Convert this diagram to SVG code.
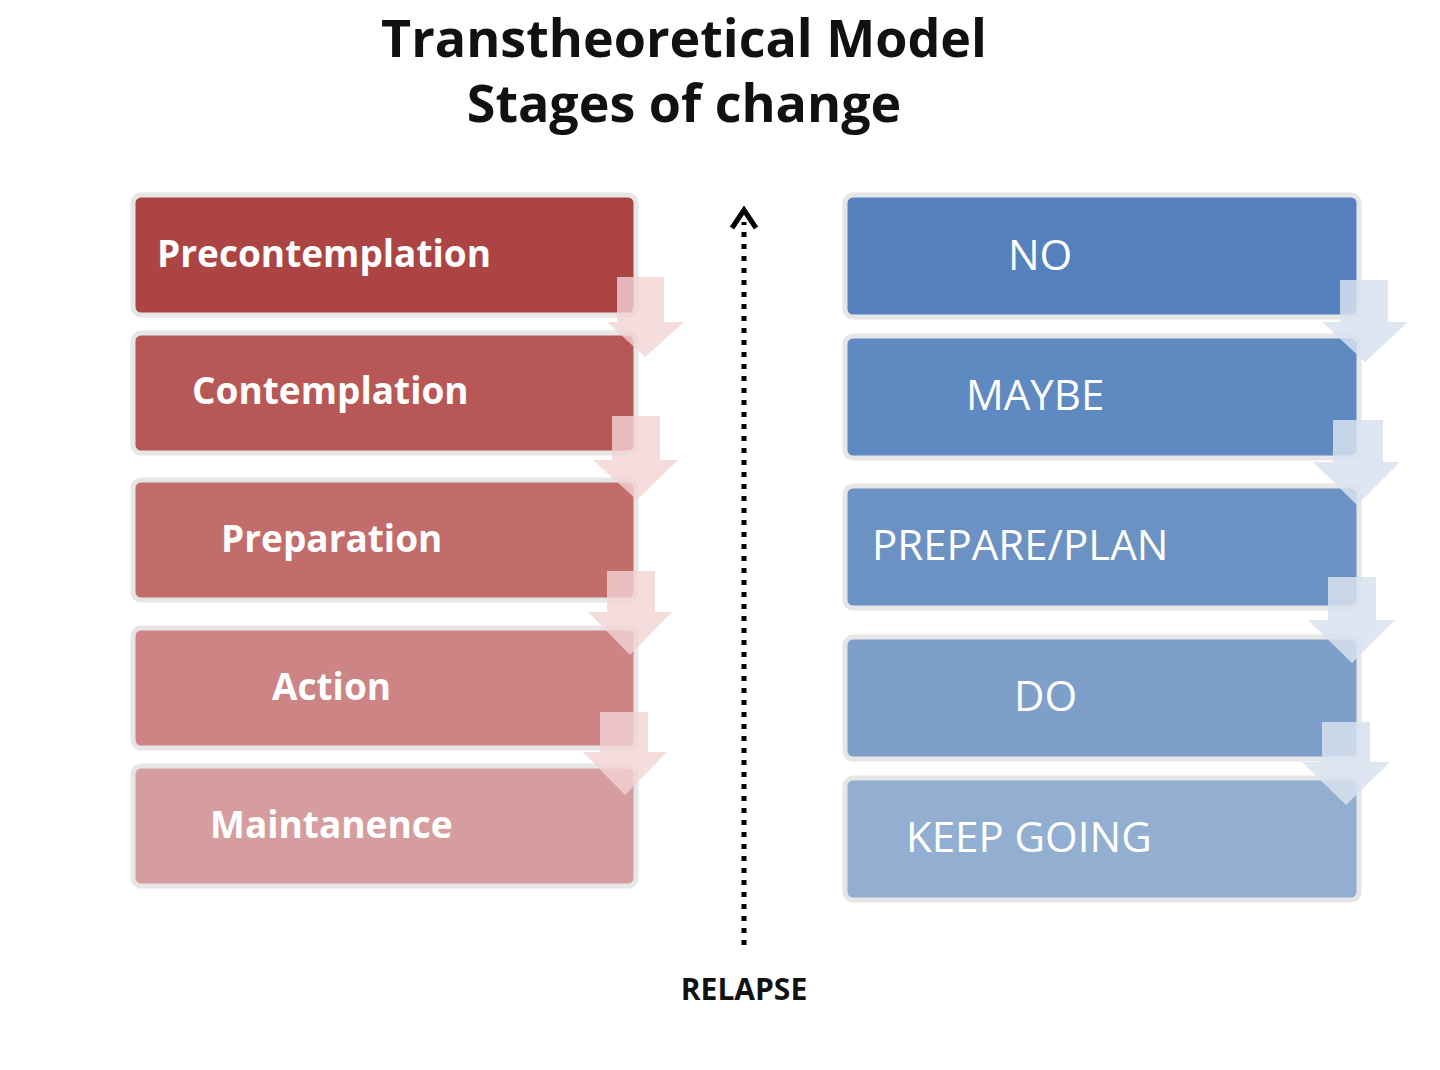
<svg xmlns="http://www.w3.org/2000/svg" width="1440" height="1070" viewBox="0 0 1440 1070">
<style>
.t{font-family:"Open Sans","Liberation Sans",sans-serif;font-weight:bold;fill:#111;font-size:52px;text-anchor:middle}
.lb{font-family:"Open Sans","Liberation Sans",sans-serif;font-weight:bold;fill:#fff;font-size:37px}
.rb{font-family:"Open Sans","Liberation Sans",sans-serif;fill:#fff;font-size:42px}
.bx{stroke:#e6e6e6;stroke-width:5}
.da{fill:#f3d3d5;fill-opacity:0.8}
.db{fill:#d8e2ef;fill-opacity:0.85}
</style>
<rect width="1440" height="1070" fill="#fff"/>
<text class="t" x="684" y="57">Transtheoretical Model</text>
<text class="t" x="684" y="122">Stages of change</text>
<g id="pre"><rect class="bx" x="133" y="195" width="503" height="120" rx="8" fill="#AB4443"/><text class="lb" x="157" y="267">Precontemplation</text></g>
<g id="con"><rect class="bx" x="133" y="333" width="503" height="120" rx="8" fill="#B75756"/><text class="lb" x="192" y="404">Contemplation</text></g>
<g id="prep"><rect class="bx" x="133" y="480" width="503" height="120" rx="8" fill="#C26C6C"/><text class="lb" x="221" y="552">Preparation</text></g>
<g id="act"><rect class="bx" x="133" y="628" width="503" height="120" rx="8" fill="#CC8485"/><text class="lb" x="272" y="700">Action</text></g>
<g id="mai"><rect class="bx" x="133" y="766" width="503" height="120" rx="8" fill="#D69D9F"/><text class="lb" x="210" y="838">Maintanence</text></g>
<g id="no"><rect class="bx" x="845" y="195" width="514" height="122" rx="8" fill="#5582BE"/><text class="rb" x="1008" y="270">NO</text></g>
<g id="maybe"><rect class="bx" x="845" y="336" width="514" height="122" rx="8" fill="#5F89C1"/><text class="rb" x="966" y="410">MAYBE</text></g>
<g id="plan"><rect class="bx" x="845" y="486" width="514" height="122" rx="8" fill="#6C92C4"/><text class="rb" x="872" y="560">PREPARE/PLAN</text></g>
<g id="do"><rect class="bx" x="845" y="637" width="514" height="122" rx="8" fill="#7E9FC9"/><text class="rb" x="1014" y="711">DO</text></g>
<g id="keep"><rect class="bx" x="845" y="778" width="514" height="122" rx="8" fill="#92AFD1"/><text class="rb" x="906" y="852">KEEP GOING</text></g>
<g id="connectors">
<polygon class="da" points="617,277 664,277 664,322 684,322 645,357 607,322 617,322"/>
<polygon class="da" points="612,416 660,416 660,460 678,460 637,500 593,460 612,460"/>
<polygon class="da" points="607,571 655,571 655,612 672,612 630,655 588,612 607,612"/>
<polygon class="da" points="600,712 648,712 648,752 667,752 625,795 583,752 600,752"/>
<polygon class="db" points="1340,280 1388,280 1388,322 1408,322 1365,362 1322,322 1340,322"/>
<polygon class="db" points="1333,420 1383,420 1383,462 1400,462 1357,505 1313,462 1333,462"/>
<polygon class="db" points="1328,577 1376,577 1376,620 1395,620 1352,663 1308,620 1328,620"/>
<polygon class="db" points="1322,722 1370,722 1370,762 1390,762 1346,805 1302,762 1322,762"/>
<line x1="744" y1="945" x2="744" y2="222" stroke="#000" stroke-width="5" stroke-dasharray="5,7"/>
<polyline points="732,228 744,210 756,228" fill="none" stroke="#000" stroke-width="5"/>
</g>
<text x="744" y="1000" font-family="Open Sans,Liberation Sans,sans-serif" font-weight="bold" font-size="30" text-anchor="middle" fill="#111">RELAPSE</text>
</svg>
